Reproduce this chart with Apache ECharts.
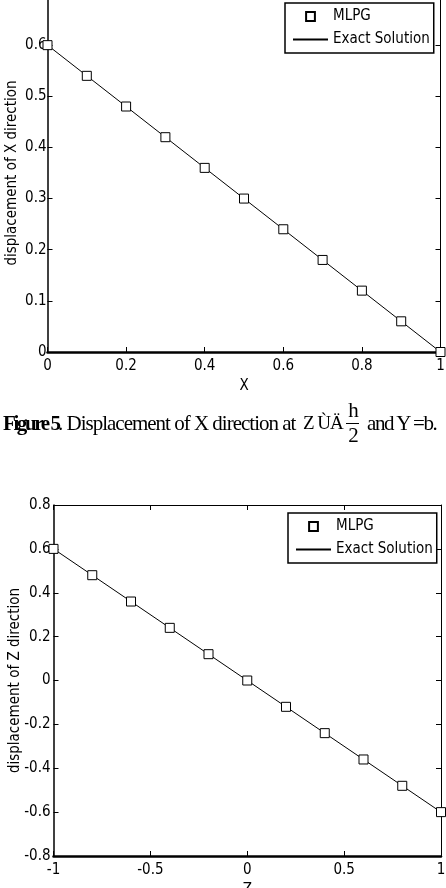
<!DOCTYPE html>
<html>
<head>
<meta charset="utf-8">
<script src="https://cdn.jsdelivr.net/npm/echarts@6/dist/echarts.min.js"></script>
<style>
  body { margin: 0; background: #fff; }
  #chart { position: absolute; left: 0; top: 0; width: 446px; height: 888px; }
  #caption {
    position: absolute; left: 3px; top: 405px; width: 440px; height: 44px;
    font-family: "Liberation Serif", serif; font-size: 21px; letter-spacing: -1px;
    color: #000; white-space: nowrap;
  }
  #caption span { position: absolute; }
  .frac { text-align: center; width: 16px; }
</style>
</head>
<body>
<div id="chart"></div>
<div id="caption">
  <span style="left:0; top:6px; letter-spacing:-2.4px;"><b>Figure 5</b></span>
  <span style="left:55px; top:6px;">. Displacement of X direction at</span>
  <span style="left:300px; top:7px; font-size:19px;">Z ÙÄ</span>
  <span class="frac" style="left:342px; top:-7px;">h</span>
  <span style="left:343px; top:18px; width:13px; border-top:1px solid #000;"></span>
  <span class="frac" style="left:342px; top:18px;">2</span>
  <span style="left:364px; top:6px; letter-spacing:-1.4px;">and Y =b.</span>
</div>
<script>
// 图1 数据: X 方向位移
const xVals = [0, 0.1, 0.2, 0.3, 0.4, 0.5, 0.6, 0.7, 0.8, 0.9, 1];
const mlpgX = [0.6, 0.54, 0.48, 0.42, 0.36, 0.30, 0.24, 0.18, 0.12, 0.06, 0];
const exactX = [0.6, 0.54, 0.48, 0.42, 0.36, 0.30, 0.24, 0.18, 0.12, 0.06, 0];

// 图2 数据: Z 方向位移
const zVals = [-1, -0.8, -0.6, -0.4, -0.2, 0, 0.2, 0.4, 0.6, 0.8, 1];
const mlpgZ = [0.6, 0.48, 0.36, 0.24, 0.12, 0, -0.12, -0.24, -0.36, -0.48, -0.6];
const exactZ = [0.6, 0.48, 0.36, 0.24, 0.12, 0, -0.12, -0.24, -0.36, -0.48, -0.6];

const sans = '"DejaVu Sans Condensed", "DejaVu Sans", sans-serif';

function pairs(xs, ys) {
    return xs.map((x, i) => [x, ys[i]]);
}

function mainX(grid, min, max, interval, name) {
    return {
        gridIndex: grid, type: 'value', min: min, max: max, interval: interval,
        name: name, nameLocation: 'middle', nameGap: 27,
        nameTextStyle: { fontFamily: sans, fontSize: 15, color: '#000' },
        axisLine: { onZero: false, lineStyle: { color: '#000', width: 2.5 } },
        axisTick: { inside: true, length: 5, lineStyle: { color: '#000' } },
        axisLabel: { fontFamily: sans, fontSize: 15, color: '#000', margin: 7 },
        splitLine: { show: false }
    };
}

function mirrorX(grid, min, max, interval) {
    return {
        gridIndex: grid, type: 'value', position: 'top', min: min, max: max, interval: interval,
        axisLine: { onZero: false, lineStyle: { color: '#000', width: 1 } },
        axisTick: { inside: true, length: 5, lineStyle: { color: '#000' } },
        axisLabel: { show: false }, splitLine: { show: false }
    };
}

function mainY(grid, min, max, interval, name, gap, margin) {
    return {
        gridIndex: grid, type: 'value', min: min, max: max, interval: interval,
        name: name, nameLocation: 'middle', nameGap: gap, nameMoveOverlap: false,
        nameTextStyle: { fontFamily: sans, fontSize: 15, color: '#000' },
        axisLine: { onZero: false, lineStyle: { color: '#000', width: 1.5 } },
        axisTick: { inside: true, length: 5, lineStyle: { color: '#000' } },
        axisLabel: { fontFamily: sans, fontSize: 15, color: '#000', margin: margin },
        splitLine: { show: false }
    };
}

function mirrorY(grid, min, max, interval) {
    return {
        gridIndex: grid, type: 'value', position: 'right', min: min, max: max, interval: interval,
        axisLine: { onZero: false, lineStyle: { color: '#000', width: 1 } },
        axisTick: { inside: true, length: 5, lineStyle: { color: '#000' } },
        axisLabel: { show: false }, splitLine: { show: false }
    };
}

function legendAt(left, top) {
    return {
        left: left, top: top, orient: 'vertical',
        data: [
            { name: 'MLPG' },
            { name: 'Exact Solution', itemStyle: { opacity: 0 } }
        ],
        itemWidth: 35, itemHeight: 11, itemGap: 8,
        padding: [6, 4, 6, 7],
        borderColor: '#000', borderWidth: 1.5, backgroundColor: '#fff',
        textStyle: { fontFamily: sans, fontSize: 15, color: '#000', width: 94 },
        selectedMode: false
    };
}

function mlpgSeries(x, y, data) {
    return {
        name: 'MLPG', type: 'line', xAxisIndex: x, yAxisIndex: y, data: data,
        symbol: 'rect', symbolSize: 9, showSymbol: true,
        lineStyle: { width: 0, opacity: 0 },
        itemStyle: { color: '#fff', borderColor: '#000', borderWidth: 1 },
        z: 3, animation: false
    };
}

function exactSeries(x, y, data) {
    return {
        name: 'Exact Solution', type: 'line', xAxisIndex: x, yAxisIndex: y, data: data,
        symbol: 'none', lineStyle: { color: '#000', width: 1 },
        itemStyle: { color: '#000' }, z: 2, animation: false
    };
}

const chart = echarts.init(document.getElementById('chart'));
chart.setOption({
    animation: false,
    grid: [
        { left: 47.5, right: 5.5, top: -6, bottom: 536, containLabel: false, outerBoundsMode: 'none' },
        { left: 53.5, right: 5, top: 505, bottom: 32, containLabel: false, outerBoundsMode: 'none' }
    ],
    legend: [legendAt(285, 3), legendAt(288, 513)],
    xAxis: [
        mainX(0, 0, 1, 0.2, 'X'),
        mirrorX(0, 0, 1, 0.2),
        mainX(1, -1, 1, 0.5, 'Z'),
        mirrorX(1, -1, 1, 0.5)
    ],
    yAxis: [
        mainY(0, 0, 0.7, 0.1, 'displacement of X direction', 28, 1),
        mirrorY(0, 0, 0.7, 0.1),
        mainY(1, -0.8, 0.8, 0.2, 'displacement of Z direction', 31, 3),
        mirrorY(1, -0.8, 0.8, 0.2)
    ],
    series: [
        mlpgSeries(0, 0, pairs(xVals, mlpgX)),
        exactSeries(0, 0, pairs(xVals, exactX)),
        mlpgSeries(2, 2, pairs(zVals, mlpgZ)),
        exactSeries(2, 2, pairs(zVals, exactZ))
    ]
});
</script>
</body>
</html>
